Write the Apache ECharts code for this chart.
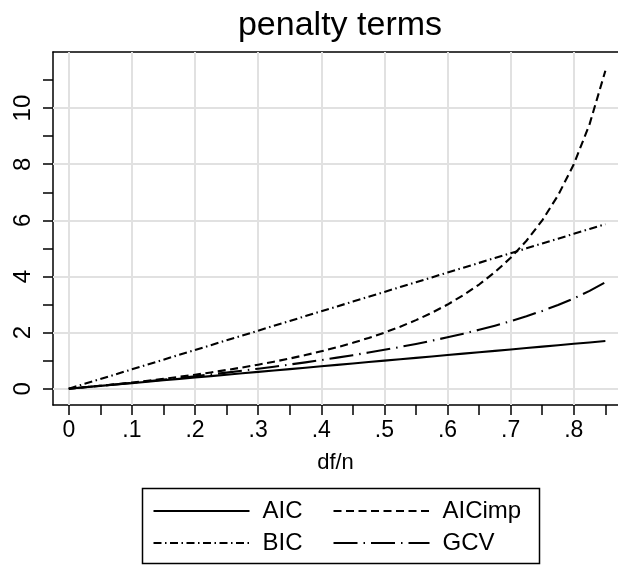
<!DOCTYPE html>
<html>
<head>
<meta charset="utf-8">
<title>penalty terms</title>
<script src="https://cdn.jsdelivr.net/npm/echarts@6/dist/echarts.min.js"></script>
<style>
  html, body { margin: 0; padding: 0; background: #fff; }
  #chart { width: 618px; height: 565px; }
</style>
</head>
<body>
<div id="chart"></div>
<script>
// df/n positions where the penalty curves are sampled
const dfn = [0, 0.025, 0.05, 0.075, 0.10, 0.125, 0.15, 0.175, 0.20, 0.225, 0.25, 0.275, 0.30, 0.325,
             0.35, 0.375, 0.40, 0.425, 0.45, 0.475, 0.50, 0.525, 0.55, 0.575, 0.60, 0.625, 0.65,
             0.675, 0.70, 0.725, 0.75, 0.775, 0.80, 0.825, 0.85];

// penalty values for each criterion
const aic    = [0, 0.05, 0.10, 0.15, 0.20, 0.25, 0.30, 0.35, 0.40, 0.45, 0.50, 0.55, 0.60, 0.65,
                0.70, 0.75, 0.80, 0.85, 0.90, 0.95, 1.00, 1.05, 1.10, 1.15, 1.20, 1.25, 1.30,
                1.35, 1.40, 1.45, 1.50, 1.55, 1.60, 1.65, 1.70];
const aicimp = [0, 0.051, 0.105, 0.162, 0.222, 0.286, 0.353, 0.424, 0.50, 0.581, 0.667, 0.759, 0.857, 0.963,
                1.077, 1.20, 1.333, 1.478, 1.636, 1.810, 2.00, 2.211, 2.444, 2.706, 3.00, 3.333, 3.714,
                4.154, 4.667, 5.273, 6.00, 6.889, 8.00, 9.429, 11.333];
const bic    = [0, 0.173, 0.345, 0.518, 0.69, 0.863, 1.035, 1.208, 1.38, 1.553, 1.725, 1.898, 2.07, 2.243,
                2.415, 2.588, 2.76, 2.933, 3.105, 3.278, 3.45, 3.623, 3.795, 3.968, 4.14, 4.313, 4.485,
                4.658, 4.83, 5.003, 5.175, 5.348, 5.52, 5.693, 5.865];
const gcv    = [0, 0.051, 0.103, 0.156, 0.211, 0.267, 0.325, 0.385, 0.446, 0.510, 0.575, 0.643, 0.713, 0.786,
                0.862, 0.940, 1.022, 1.107, 1.196, 1.289, 1.386, 1.489, 1.597, 1.711, 1.833, 1.962, 2.10,
                2.248, 2.408, 2.582, 2.773, 2.983, 3.219, 3.486, 3.794];

const seriesNames = ['AIC', 'AICimp', 'BIC', 'GCV'];

// axis ticks, labels and grid lines
const xTicks = [0, 0.05, 0.10, 0.15, 0.20, 0.25, 0.30, 0.35, 0.40, 0.45, 0.50, 0.55, 0.60, 0.65, 0.70, 0.75, 0.80, 0.85];
const xLabelValues = [0, 0.1, 0.2, 0.3, 0.4, 0.5, 0.6, 0.7, 0.8];
const xLabelTexts  = ['0', '.1', '.2', '.3', '.4', '.5', '.6', '.7', '.8'];
const yTicks = [0, 1, 2, 3, 4, 5, 6, 7, 8, 9, 10, 11];
const yLabelValues = [0, 2, 4, 6, 8, 10];
const yLabelTexts  = ['0', '2', '4', '6', '8', '10'];

const FONT = '"Liberation Sans", Arial, Helvetica, sans-serif';

function pairs(ys) { return dfn.map((x, i) => [x, ys[i]]); }

const dashStyles = {
  AIC: 'solid',
  AICimp: [8, 4.5],
  BIC: [8, 3.5, 1.5, 3.5],
  GCV: [24, 6, 1.5, 6]
};
const values = { AIC: aic, AICimp: aicimp, BIC: bic, GCV: gcv };

const curveSeries = seriesNames.map(name => ({
  name: name,
  type: 'line',
  data: pairs(values[name]),
  xAxisIndex: 0,
  yAxisIndex: 0,
  showSymbol: false,
  symbol: 'none',
  smooth: false,
  z: 3,
  color: '#000',
  lineStyle: { color: '#000', width: 2.1, type: dashStyles[name], cap: 'butt', join: 'round' }
}));

// light grey reference lines at the labelled ticks
const gridSeries = {
  name: 'grid',
  type: 'line',
  data: [],
  silent: true,
  symbol: 'none',
  z: 1,
  markLine: {
    silent: true,
    z: 1,
    symbol: ['none', 'none'],
    label: { show: false },
    animation: false,
    lineStyle: { color: '#e1e1e1', width: 2, type: 'solid' },
    emphasis: { disabled: true },
    data: xLabelValues.map(v => ({ xAxis: v })).concat(yLabelValues.map(v => ({ yAxis: v })))
  }
};

const axisLineStyle = { color: '#000', width: 1.5 };

const legendCommon = {
  selectedMode: false,
  orient: 'horizontal',
  padding: 0,
  itemWidth: 96,
  itemHeight: 24,
  itemGap: 30,
  itemStyle: { color: 'transparent', borderColor: 'transparent', borderWidth: 0, opacity: 0 },
  textStyle: { fontFamily: FONT, fontSize: 24, color: '#000', padding: [0, 0, 0, 8] }
};

const option = {
  animation: false,
  backgroundColor: '#fff',
  title: {
    text: 'penalty terms',
    left: 340,
    top: 9,
    padding: 0,
    textAlign: 'center',
    textStyle: { fontFamily: FONT, fontSize: 34, fontWeight: 'normal', color: '#000' }
  },
  grid: { left: 53, top: 52, width: 570, height: 353, containLabel: false },
  xAxis: [
    {
      type: 'value',
      position: 'bottom',
      min: -0.025,
      max: 0.87,
      axisLine: { show: true, onZero: false, lineStyle: axisLineStyle },
      axisTick: { show: true, customValues: xTicks, length: 10, lineStyle: axisLineStyle },
      axisLabel: {
        show: true,
        customValues: xLabelValues,
        margin: 14,
        fontFamily: FONT, fontSize: 23, color: '#000',
        formatter: v => xLabelTexts[xLabelValues.findIndex(t => Math.abs(t - v) < 1e-9)]
      },
      splitLine: { show: false },
      name: 'df/n',
      nameLocation: 'middle',
      nameGap: 47,
      nameTextStyle: { fontFamily: FONT, fontSize: 22, color: '#000' }
    },
    {
      type: 'value',
      position: 'top',
      min: -0.025,
      max: 0.87,
      axisLine: { show: true, onZero: false, lineStyle: axisLineStyle },
      axisTick: { show: false },
      axisLabel: { show: false },
      splitLine: { show: false }
    }
  ],
  yAxis: {
    type: 'value',
    min: -0.58,
    max: 12,
    axisLine: { show: true, onZero: false, lineStyle: axisLineStyle },
    axisTick: { show: true, customValues: yTicks, length: 10, lineStyle: axisLineStyle },
    axisLabel: {
      show: true,
      customValues: yLabelValues,
      rotate: 90,
      margin: 18,
      fontFamily: FONT, fontSize: 24, color: '#000',
      formatter: v => yLabelTexts[yLabelValues.findIndex(t => Math.abs(t - v) < 1e-9)]
    },
    splitLine: { show: false }
  },
  legend: [
    Object.assign({}, legendCommon, { data: ['AIC', 'AICimp'], left: 152.5, top: 499 }),
    Object.assign({}, legendCommon, { data: ['BIC', 'GCV'], left: 152.5, top: 531 })
  ],
  graphic: [
    {
      type: 'rect',
      silent: true,
      shape: { x: 142.5, y: 488.5, width: 397, height: 75 },
      style: { fill: 'none', stroke: '#000', lineWidth: 1.5 }
    }
  ],
  series: [gridSeries].concat(curveSeries)
};

const chart = echarts.init(document.getElementById('chart'), null, { renderer: 'canvas' });
chart.setOption(option);
</script>
</body>
</html>
